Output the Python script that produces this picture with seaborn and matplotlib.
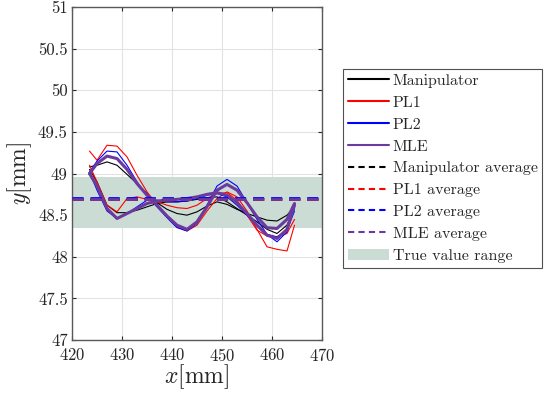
import numpy as np
import pandas as pd
import matplotlib
matplotlib.use("Agg")
import matplotlib.pyplot as plt
from matplotlib.lines import Line2D
from matplotlib.patches import Patch
from matplotlib.ticker import FormatStrFormatter
import seaborn as sns

sns.set_theme(context="notebook", style="ticks")
plt.rcParams["font.family"] = ["cmr10", "DejaVu Serif"]
plt.rcParams["mathtext.fontset"] = "cm"
plt.rcParams["axes.formatter.use_mathtext"] = True

# x positions [mm] shared by all traces
x_mm = [423.5, 425, 427, 429, 431, 433, 435, 437, 439, 441, 443,
        445, 447, 449, 451, 453, 455, 457, 459, 461, 463, 464.5]

# each series: two passes (upper start / lower start)
manip_a = [49.08, 49.10, 49.14, 49.10, 48.99, 48.88, 48.76, 48.65, 48.57, 48.52, 48.50,
           48.54, 48.61, 48.66, 48.63, 48.57, 48.52, 48.48, 48.44, 48.43, 48.50, 48.60]
manip_b = [49.05, 48.90, 48.62, 48.53, 48.53, 48.56, 48.60, 48.64, 48.66, 48.66, 48.67,
           48.69, 48.71, 48.72, 48.66, 48.58, 48.50, 48.42, 48.33, 48.28, 48.38, 48.58]
pl1_a = [49.27, 49.16, 49.34, 49.33, 49.20, 48.98, 48.78, 48.62, 48.48, 48.36, 48.31,
         48.38, 48.55, 48.70, 48.78, 48.72, 48.55, 48.33, 48.12, 48.09, 48.07, 48.38]
pl1_b = [49.10, 48.90, 48.62, 48.54, 48.70, 48.72, 48.69, 48.66, 48.62, 48.59, 48.58,
         48.62, 48.70, 48.76, 48.77, 48.68, 48.50, 48.32, 48.25, 48.24, 48.28, 48.45]
pl2_a = [49.02, 49.15, 49.27, 49.26, 49.10, 48.90, 48.73, 48.60, 48.47, 48.35, 48.31,
         48.40, 48.62, 48.85, 48.93, 48.85, 48.65, 48.45, 48.27, 48.18, 48.30, 48.60]
pl2_b = [49.02, 48.80, 48.55, 48.46, 48.52, 48.60, 48.68, 48.68, 48.66, 48.66, 48.67,
         48.70, 48.74, 48.76, 48.72, 48.62, 48.50, 48.37, 48.27, 48.24, 48.32, 48.55]
mle_a = [49.00, 49.12, 49.21, 49.18, 49.05, 48.88, 48.74, 48.62, 48.49, 48.38, 48.33,
         48.42, 48.60, 48.80, 48.87, 48.80, 48.65, 48.48, 48.35, 48.34, 48.45, 48.64]
mle_b = [49.00, 48.85, 48.58, 48.46, 48.52, 48.58, 48.64, 48.67, 48.68, 48.69, 48.70,
         48.72, 48.75, 48.77, 48.74, 48.65, 48.52, 48.38, 48.26, 48.22, 48.33, 48.62]

series_names = ["Manipulator", "PL1", "PL2", "MLE"]
averages = [48.70, 48.69, 48.71, 48.70]
true_range = [48.35, 48.96]

colors = ["#000000", "#FF0000", "#0000FF", "#6B3A9E"]
widths = [0.8, 0.8, 0.8, 2.2]
passes = [(manip_a, manip_b), (pl1_a, pl1_b), (pl2_a, pl2_b), (mle_a, mle_b)]

fig = plt.figure(figsize=(5.48, 3.94), dpi=100)
ax = fig.add_axes([0.1314, 0.137, 0.4562, 0.845])

ax.axhspan(true_range[0], true_range[1], color="#CADCD4", lw=0, zorder=1)

for name, (a, b), c, w in zip(series_names, passes, colors, widths):
    for trace in (a, b):
        df = pd.DataFrame({"x": x_mm, "y": trace})
        sns.lineplot(data=df, x="x", y="y", sort=False, color=c, lw=w, ax=ax, zorder=3)

for avg, c in zip(averages, colors):
    ax.axhline(avg, color=c, lw=2, ls=(0, (4, 2.5)), zorder=4)

ax.set_xlim(420, 470)
ax.set_ylim(47, 51)
ax.set_xticks(np.arange(420, 471, 10))
ax.set_yticks(np.arange(47, 51.01, 0.5))
ax.yaxis.set_major_formatter(FormatStrFormatter("%g"))
ax.grid(True, color="#E3E3E3", lw=0.8, zorder=0)
ax.set_axisbelow(True)
ax.tick_params(direction="in", length=3, width=0.8, top=True, right=True,
               labelsize=12, colors="#262626")
ax.tick_params(axis="x", pad=5)
ax.tick_params(axis="y", pad=3)
for s in ax.spines.values():
    s.set_color("#595959")
    s.set_linewidth(1.0)
    s.set_visible(True)
ax.set_xlabel("$x$[mm]", fontsize=17, labelpad=-1)
ax.set_ylabel("$y$[mm]", fontsize=17, labelpad=3)

handles = [Line2D([], [], color=c, lw=1.5) for c in colors]
handles += [Line2D([], [], color=c, lw=1.5, ls=(0, (3, 2))) for c in colors]
handles.append(Patch(facecolor="#CADCD4", edgecolor="none"))
labels = series_names + [n + " average" for n in series_names] + ["True value range"]
leg = ax.legend(handles, labels, loc="upper left", bbox_to_anchor=(1.084, 0.814),
                fontsize=11.5, frameon=True, fancybox=False, handlelength=2.6,
                handletextpad=0.2, borderaxespad=0, borderpad=0.3, labelspacing=0.48)
leg.get_frame().set_edgecolor("#262626")
leg.get_frame().set_linewidth(0.8)

fig.savefig("out.png", dpi=100)
